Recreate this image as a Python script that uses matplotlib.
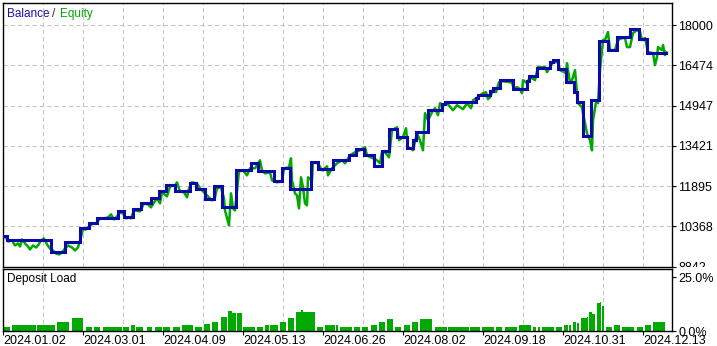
import matplotlib
matplotlib.use("Agg")
import matplotlib.pyplot as plt
from matplotlib.transforms import Bbox, TransformedBbox

plt.rcParams['font.family'] = ['Liberation Sans', 'DejaVu Sans']

# x axis = deal number (pixel-like index), labels are dates of those deals
date_pos = [0, 80, 160, 240, 320, 400, 480, 560, 640]
date_labels = ["2024.01.02", "2024.03.01", "2024.04.09", "2024.05.13", "2024.06.26",
               "2024.08.02", "2024.09.18", "2024.10.31", "2024.12.13"]
value_ticks = [8842, 10368, 11895, 13421, 14947, 16474, 18000]
load_ticks = [0, 25]
load_labels = ["0.0%", "25.0%"]

# balance: step starts and levels
bal_x = [0, 4, 48, 62, 77, 86, 94, 115, 121, 130,
         138, 148, 156, 163, 172, 187, 193, 202, 211, 219,
         233, 248, 255, 271, 279, 287, 308, 315, 330, 346,
         353, 361, 371, 379, 386, 394, 404, 410, 413, 425,
         439, 442, 473, 475, 487, 490, 497, 510, 524, 526,
         534, 547, 550, 555, 563, 571, 574, 580, 588, 596,
         605, 614, 627, 636, 644]
bal_v = [10009, 9830, 9385, 9754, 10297, 10503, 10693, 10932, 10715, 11008,
         11263, 11453, 11692, 11920, 11703, 12007, 11768, 11388, 11882, 11084,
         12517, 12767, 12463, 12083, 12593, 11779, 12805, 12528, 12870, 13060,
         13315, 13060, 12642, 13212, 14048, 13763, 13326, 13630, 13945, 14770,
         14987, 15085, 15237, 15359, 15492, 15595, 15910, 15568, 15872, 16073,
         16355, 16605, 16670, 16328, 15845, 15465, 15093, 13793, 15150, 17392,
         17050, 17555, 17848, 17468, 16947]
bal_last = 663

eq_x = [0, 3, 5, 9, 12, 15, 17, 19, 22, 25, 27, 30, 33, 35, 38, 41, 44, 47, 50, 53,
        56, 59, 62, 65, 69, 72, 75, 78, 80, 83, 87, 90, 93, 97, 101, 105, 108, 111, 114, 117,
        120, 123, 126, 128, 131, 137, 141, 145, 148, 151, 154, 157, 159, 164, 167, 172, 174, 177, 181, 184,
        186, 189, 194, 197, 199, 205, 209, 212, 214, 218, 221, 222, 226, 228, 230, 232, 234, 236, 240, 244,
        247, 252, 257, 259, 262, 267, 269, 274, 279, 281, 286, 288, 289, 292, 294, 296, 298, 300, 302, 304,
        305, 309, 310, 315, 319, 324, 325, 329, 334, 339, 342, 347, 352, 357, 362, 364, 367, 370, 374, 377,
        379, 382, 386, 389, 394, 396, 400, 403, 405, 408, 410, 414, 417, 420, 422, 425, 429, 432, 435, 437,
        440, 444, 450, 454, 457, 460, 464, 468, 470, 475, 480, 483, 485, 487, 490, 493, 496, 499, 507, 509,
        511, 514, 517, 519, 520, 524, 527, 532, 535, 542, 544, 547, 550, 555, 557, 563, 564, 567, 569, 572,
        574, 575, 579, 580, 584, 587, 589, 590, 593, 595, 597, 600, 602, 605, 607, 612, 615, 619, 622, 624,
        627, 630, 634, 637, 639, 642, 644, 645, 650, 652, 654, 655, 659, 660, 662, 663]
eq_v = [9982, 9944, 9792, 9830, 9640, 9716, 9602, 9868, 9716, 9602, 9488, 9640, 9564, 9640, 9830, 9906, 9678, 9526, 9450, 9336,
        9298, 9374, 9526, 9640, 9564, 9450, 9564, 9982, 10248, 10248, 10400, 10476, 10476, 10666, 10666, 10704, 10818, 10628, 10742, 10894,
        10856, 10666, 10704, 10666, 10970, 10932, 11236, 11198, 11084, 11274, 11426, 11236, 11654, 11502, 11882, 11920, 12034, 11692, 11654, 11464,
        11806, 12034, 11996, 11806, 11730, 11502, 11350, 11464, 11806, 11844, 11426, 10970, 10400, 11616, 11046, 10970, 11730, 12452, 12490, 12300,
        12566, 12566, 12870, 12490, 12376, 12414, 12110, 12034, 12072, 12566, 12604, 12946, 12110, 11616, 11540, 11046, 12224, 11844, 11236, 11160,
        12224, 12110, 12794, 12756, 12490, 12642, 12300, 12566, 12756, 12870, 12756, 13060, 13174, 13250, 13364, 13060, 12995, 12946, 12870, 12756,
        13174, 13174, 12984, 14010, 14124, 13630, 13744, 14086, 13364, 13326, 13250, 13896, 13630, 13250, 14656, 14390, 14694, 14846, 14580, 15036,
        14960, 15036, 14770, 14960, 14884, 14808, 15036, 14846, 15150, 15264, 15416, 15454, 15188, 15264, 15530, 15454, 15834, 15872, 15834, 15796,
        15606, 15644, 15568, 15416, 15910, 15796, 16024, 15910, 16404, 16404, 16214, 16404, 16594, 16594, 16290, 16176, 16556, 15796, 15910, 16290,
        15416, 15036, 14884, 14656, 13896, 13630, 13250, 14390, 15074, 15036, 16290, 17430, 17430, 17734, 17050, 17050, 17430, 17506, 17506, 17164,
        17164, 17696, 17810, 17734, 17430, 17506, 17164, 16974, 16936, 16480, 16784, 17164, 17050, 17240, 16860, 16974]

# deposit load bars: deal range and load in %
bar_start = [0.3, 9.3, 33.7, 54.3, 68.7, 83, 91, 99.7, 120.3, 128,
             133, 143.7, 152, 160.3, 170.3, 178.7, 192, 201, 208.7, 217.7,
             225.3, 229.3, 233.7, 240.3, 253.7, 262, 267, 277, 284.7, 292.7,
             298, 300.3, 314.3, 322, 333, 337, 351, 359.3, 368, 376,
             383.7, 392, 401.3, 408.7, 417, 432, 445, 467, 478.7, 493,
             502, 516, 529.7, 535, 539.3, 553, 561, 565.7, 569.7, 573.7,
             578, 584, 586, 589, 593.7, 597, 598.7, 602.7, 611, 619.3,
             633.7, 642, 649.7]
bar_end = [7, 33, 52, 66, 79.7, 88.7, 97, 118.7, 126.3, 132,
           140.3, 148.7, 158.7, 167, 177, 190.3, 198.7, 207, 215.3, 223.7,
           228.7, 232.7, 238.7, 252, 259.7, 266.3, 275.3, 283, 291, 297.7,
           299.7, 312, 319.7, 332, 334.7, 348.7, 357, 365.3, 373.7, 382,
           389.7, 398, 407, 415.3, 428.7, 443.7, 466, 477, 491, 499.3,
           514.3, 527.7, 532.7, 537, 551, 559, 565, 568, 573, 576.3,
           583.7, 585, 588.7, 592, 597, 598, 601, 608.7, 617, 631,
           640.3, 648, 662]
bar_load = [1.9, 2.8, 2.8, 4.3, 6.2, 1.9, 1.9, 1.9, 1.9, 2.8,
            1.9, 1.9, 1.9, 1.9, 1.9, 2.8, 1.9, 3.1, 4.3, 6.6,
            9.3, 8.5, 8.2, 1.9, 1.9, 2.8, 2.8, 4.2, 6.3, 8.9,
            9.7, 8.7, 1.9, 2.8, 2.8, 1.9, 1.9, 1.9, 2.8, 4.2,
            5.8, 1.9, 2.8, 4.2, 5.8, 1.9, 1.9, 1.9, 1.9, 1.9,
            1.9, 2.8, 1.9, 1.9, 1.9, 1.9, 2.8, 2.8, 4.3, 3.9,
            6.2, 6.6, 8.8, 7.9, 13.1, 13.4, 11.7, 1.9, 2.8, 1.9,
            1.9, 2.8, 4.2]

W, H = 717, 346


def box(x0, y0, x1, y1):
    return [x0 / W, 1 - y1 / H, (x1 - x0) / W, (y1 - y0) / H]


fig = plt.figure(figsize=(W / 100, H / 100), dpi=100)
ax = fig.add_axes(box(3, 3, 672, 266.5))
ax2 = fig.add_axes(box(3, 268.5, 672, 331))

grid_kw = dict(color='#c4c4c4', linewidth=0.75, linestyle=(0, (4, 3)))
xmax = 669

# top panel
ax.plot(eq_x, eq_v, color='#00a800', linewidth=1.8, zorder=2)
ax.step(bal_x + [bal_last], bal_v + [bal_v[-1]], where='post',
        color='#0a0aa8', linewidth=2.2, zorder=3, solid_joinstyle='miter')
ax.set_xlim(0, xmax)
ax.set_ylim(8842, 18836)
ax.set_xticks(range(0, xmax, 40))
ax.set_xticklabels([])
ax.tick_params(axis='x', length=0)
ax.set_yticks(value_ticks)
ax.set_yticklabels([str(v) for v in value_ticks])
ax.yaxis.tick_right()
ax.tick_params(axis='y', length=3, pad=1.5, labelsize=9, colors='black')
ax.grid(True, **grid_kw)
ax.set_axisbelow(True)

# clip lowest label at panel bottom, as in the tester window
clip = TransformedBbox(Bbox([[0, 1 - 267 / H], [1, 1]]), fig.transFigure)
for lab in ax.get_yticklabels():
    lab.set_clip_box(clip)
    lab.set_clip_on(True)

# bottom panel
widths = [e - s for s, e in zip(bar_start, bar_end)]
ax2.bar(bar_start, bar_load, width=widths, align='edge', color='#00aa00',
        linewidth=0, zorder=2)
ax2.set_xlim(0, xmax)
ax2.set_ylim(0, 29.2)
ax2.set_yticks(load_ticks)
ax2.set_yticklabels(load_labels)
ax2.yaxis.tick_right()
ax2.tick_params(axis='y', length=3, pad=1.5, labelsize=9)
ax2.set_xticks(date_pos)
ax2.set_xticklabels(date_labels, ha='left')
ax2.set_xticks(range(0, xmax, 40), minor=True)
ax2.tick_params(axis='x', which='major', length=3, pad=0, labelsize=9)
ax2.tick_params(axis='x', which='minor', length=0)
ax2.grid(True, axis='x', which='minor', **grid_kw)
ax2.set_axisbelow(True)

for a in (ax, ax2):
    for sp in a.spines.values():
        sp.set_color('black')
        sp.set_linewidth(1.0)

fig.text(7 / W, 1 - 14 / H, "Balance", color='#1e12a0', fontsize=8.5, va='center')
fig.text(52 / W, 1 - 14 / H, "/", color='#3a2a10', fontsize=8.5, va='center')
fig.text(60 / W, 1 - 14 / H, "Equity", color='#00a800', fontsize=8.5, va='center')
fig.text(7 / W, 1 - 279 / H, "Deposit Load", color='black', fontsize=8.5, va='center')

fig.savefig("out.png", dpi=100)
